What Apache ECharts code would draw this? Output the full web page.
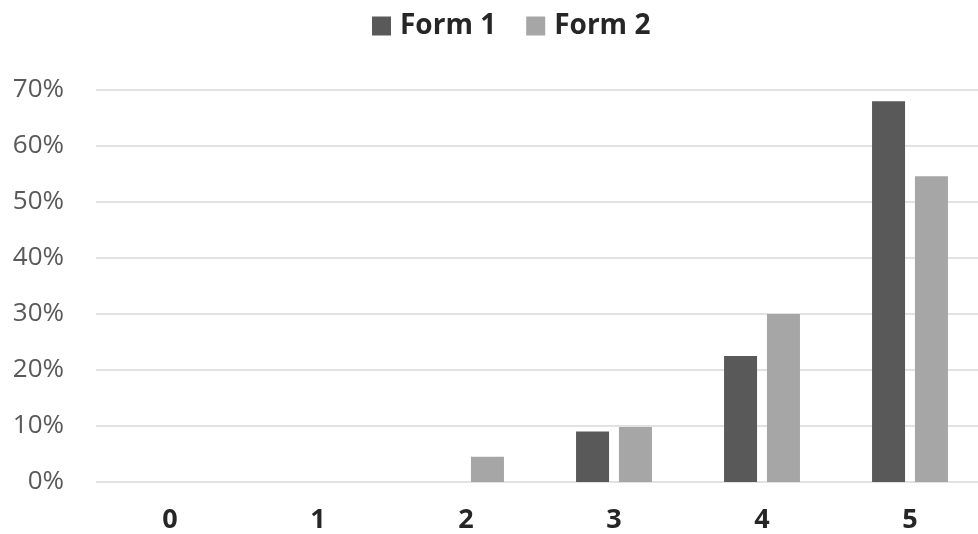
<!DOCTYPE html>
<html>
<head>
<meta charset="utf-8">
<script src="https://cdn.jsdelivr.net/npm/echarts@6/dist/echarts.min.js"></script>
<style>html,body{margin:0;padding:0;background:#fff;overflow:hidden;width:978px;height:534px}#c{width:984px;height:534px}</style>
</head>
<body>
<div id="c"></div>
<script>
const categories = ['0', '1', '2', '3', '4', '5'];
const form1 = [0, 0, 0, 9, 22.5, 68];
const form2 = [0, 0, 4.5, 9.8, 30, 54.6];
const yTicks = { min: 0, max: 70, interval: 10 };

const chart = echarts.init(document.getElementById('c'));
chart.setOption({
  animation: false,
  textStyle: { fontFamily: 'Open Sans' },
  legend: {
    top: 7, left: 367, itemWidth: 19, itemHeight: 19, itemGap: 30,
    icon: 'rect',
    textStyle: { fontSize: 28, fontWeight: 'bold', color: '#262626', fontFamily: 'Open Sans', padding: [0, 0, 0, 4] },
    data: ['Form 1', 'Form 2']
  },
  grid: { left: 96, right: 0, top: 90, bottom: 52, containLabel: false },
  xAxis: {
    type: 'category', data: categories,
    axisLine: { show: false }, axisTick: { show: false },
    axisLabel: { fontSize: 27, fontWeight: 'bold', color: '#262626', margin: 25, fontFamily: 'Open Sans' }
  },
  yAxis: {
    type: 'value', min: yTicks.min, max: yTicks.max, interval: yTicks.interval,
    axisLabel: { formatter: '{value}%', fontSize: 26, color: '#595959', margin: 32, fontFamily: 'Open Sans' },
    splitLine: { lineStyle: { color: '#d9d9d9', width: 1.5 } },
    axisLine: { show: false }, axisTick: { show: false }
  },
  series: [
    { name: 'Form 1', type: 'bar', data: form1, barWidth: '22.3%', barGap: '30%', itemStyle: { color: '#595959' } },
    { name: 'Form 2', type: 'bar', data: form2, barWidth: '22.3%', itemStyle: { color: '#a6a6a6' } }
  ]
});
</script>
</body>
</html>
